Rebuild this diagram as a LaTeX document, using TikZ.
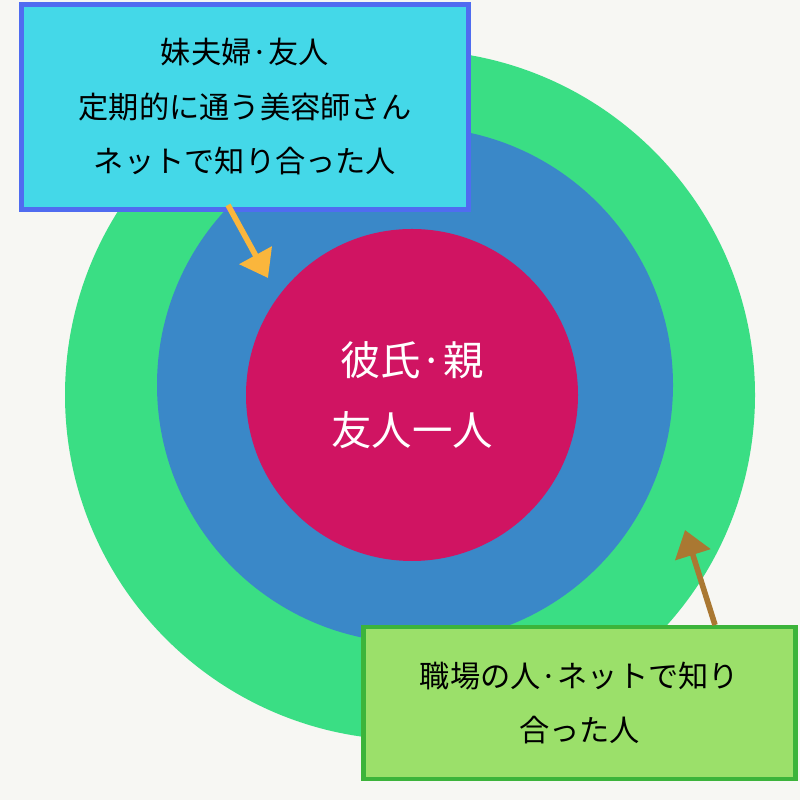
\documentclass[tikz,border=0pt]{standalone}
\usepackage{fontspec}
\setmainfont{Noto Sans CJK JP}
\usetikzlibrary{arrows.meta,positioning}
\definecolor{paper}{RGB}{247,247,243}
\definecolor{ringgreen}{RGB}{58,222,132}
\definecolor{ringblue}{RGB}{58,136,200}
\definecolor{corered}{RGB}{208,20,98}
\definecolor{boxcyan}{RGB}{68,216,232}
\definecolor{boxblue}{RGB}{80,108,240}
\definecolor{boxlime}{RGB}{155,224,106}
\definecolor{boxgreen}{RGB}{60,180,58}
\definecolor{arroworange}{RGB}{250,182,60}
\definecolor{arrowbrown}{RGB}{170,120,50}
\begin{document}
\begin{tikzpicture}[
    label/.style={draw, line width=1.4pt, font=\fontsize{8.6pt}{15.5pt}\selectfont, align=center, inner sep=0pt},
    pointer/.style={-{Triangle[length=2.6mm,width=3.6mm]}, line width=1.6pt}
]

% Background
\fill[paper] (0,0) rectangle (8,8);

% Rings
\fill[ringgreen] (4.10,4.05) circle (3.45);
\fill[ringblue] (4.15,4.15) circle (2.58);
\node[circle, fill=corered, minimum size=3.32cm, text=white, align=center,
      font=\fontsize{11.5pt}{20pt}\selectfont] (core) at (4.12,4.05) {彼氏·親\\友人一人};

% Top box
\node[label, fill=boxcyan, draw=boxblue, minimum width=4.47cm, minimum height=2.05cm] (inner) at (2.45,6.93)
    {妹夫婦·友人\\定期的に通う美容師さん\\ネットで知り合った人};

% Bottom box
\node[label, fill=boxlime, draw=boxgreen, minimum width=4.32cm, minimum height=1.52cm] (outer) at (5.795,0.97)
    {職場の人·ネットで知り\\合った人};

% Pointers
\coordinate (innerfrom) at (2.28,5.95);
\coordinate (innertip) at (2.68,5.22);
\coordinate (outerfrom) at (7.15,1.75);
\coordinate (outertip) at (6.85,2.70);
\draw[pointer, arroworange] (innerfrom) -- (innertip);
\draw[pointer, arrowbrown] (outerfrom) -- (outertip);

\end{tikzpicture}
\end{document}
